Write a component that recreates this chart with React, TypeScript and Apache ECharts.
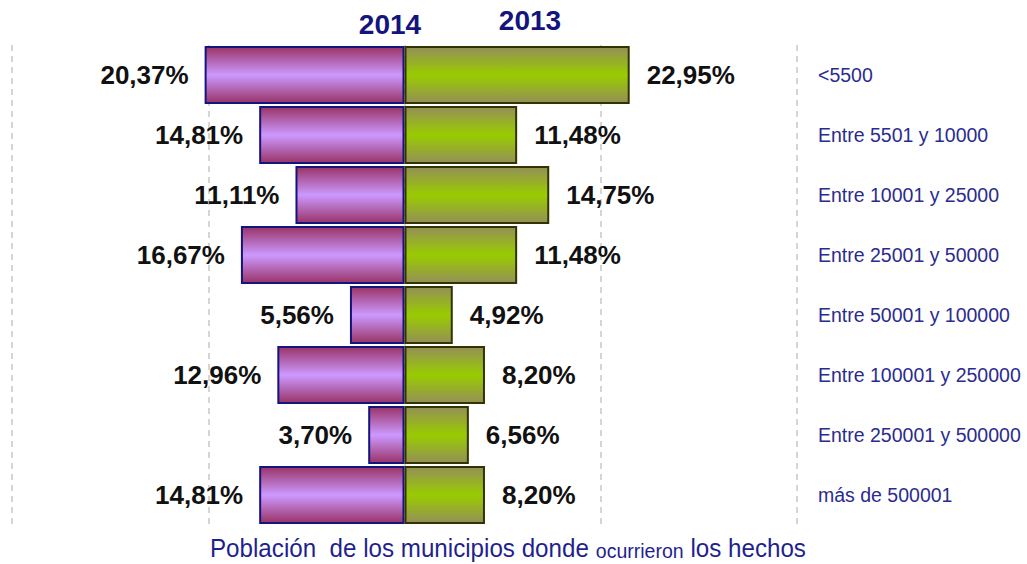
import React, { useEffect, useRef } from "react";
import * as echarts from "echarts";

const categories = [
  "<5500",
  "Entre 5501 y 10000",
  "Entre 10001 y 25000",
  "Entre 25001 y 50000",
  "Entre 50001 y 100000",
  "Entre 100001 y 250000",
  "Entre 250001 y 500000",
  "más de 500001",
];
const values2014 = [20.37, 14.81, 11.11, 16.67, 5.56, 12.96, 3.7, 14.81];
const values2013 = [22.95, 11.48, 14.75, 11.48, 4.92, 8.2, 6.56, 8.2];
const seriesNames = ["2014", "2013"];
const axisTitle = ["Población  de los municipios donde ", "ocurrieron", " los hechos"];

const fmt = (v: number) => Math.abs(v).toFixed(2).replace(".", ",") + "%";
const SANS = "'Liberation Sans', Arial, sans-serif";

export default function App() {
  const ref = useRef<HTMLDivElement>(null);
  useEffect(() => {
    if (!ref.current) return;
    document.body.style.margin = "0";
    const chart = echarts.init(ref.current, undefined, { renderer: "svg" });
    const purple = new echarts.graphic.LinearGradient(0, 0, 0, 1, [
      { offset: 0, color: "#993366" },
      { offset: 0.5, color: "#CC99FF" },
      { offset: 1, color: "#993366" },
    ]);
    const green = new echarts.graphic.LinearGradient(0, 0, 0, 1, [
      { offset: 0, color: "#948F58" },
      { offset: 0.5, color: "#99CC00" },
      { offset: 1, color: "#948F58" },
    ]);
    const labelStyle = {
      show: true,
      fontFamily: SANS,
      fontWeight: "bold" as const,
      fontSize: 26,
      color: "#111111",
      formatter: (p: any) => fmt(p.value),
    };
    chart.setOption({
      animation: false,
      grid: { left: 12, right: 230, top: 45, bottom: 39, containLabel: false, outerBoundsMode: "none" },
      xAxis: {
        type: "value",
        min: -40,
        max: 40,
        interval: 20,
        axisLabel: { show: false },
        axisLine: { show: false },
        axisTick: { show: false },
        splitLine: { show: true, lineStyle: { type: [6, 5], color: "#C8C8C8", width: 1.5 } },
      },
      yAxis: {
        type: "category",
        data: categories,
        inverse: true,
        position: "right",
        axisLine: { show: false },
        axisTick: { show: false },
        axisLabel: {
          margin: 21,
          align: "left",
          fontFamily: SANS,
          fontSize: 19.5,
          color: "#2B2B8F",
        },
      },
      series: [
        {
          name: seriesNames[0],
          type: "bar",
          stack: "t",
          barWidth: "97%",
          data: values2014.map((v) => -v),
          itemStyle: { color: purple, borderColor: "#14147F", borderWidth: 2 },
          label: { ...labelStyle, position: "left", distance: 16 },
        },
        {
          name: seriesNames[1],
          type: "bar",
          stack: "t",
          barWidth: "97%",
          data: values2013,
          itemStyle: { color: green, borderColor: "#333300", borderWidth: 2 },
          label: { ...labelStyle, position: "right", distance: 17 },
        },
      ],
      graphic: [
        {
          type: "text",
          x: 390,
          y: 10,
          style: {
            text: seriesNames[0],
            align: "center",
            fontFamily: SANS,
            fontWeight: "bold",
            fontSize: 28,
            fill: "#14147F",
          },
        },
        {
          type: "text",
          x: 530,
          y: 6,
          style: {
            text: seriesNames[1],
            align: "center",
            fontFamily: SANS,
            fontWeight: "bold",
            fontSize: 28,
            fill: "#14147F",
          },
        },
        {
          type: "text",
          x: 210,
          y: 548,
          scaleX: 0.93,
          style: {
            text: `{a|${axisTitle[0]}}{b|${axisTitle[1]}}{a|${axisTitle[2]}}`,
            verticalAlign: "middle",
            rich: {
              a: {
                fontFamily: SANS,
                fontSize: 26,
                fill: "#1F1F8F",
                verticalAlign: "bottom",
              },
              b: {
                fontFamily: SANS,
                fontSize: 21,
                fill: "#1F1F8F",
                verticalAlign: "bottom",
              },
            },
          },
        },
      ],
    });
    return () => chart.dispose();
  }, []);
  return <div ref={ref} style={{ width: 1027, height: 564 }} />;
}
